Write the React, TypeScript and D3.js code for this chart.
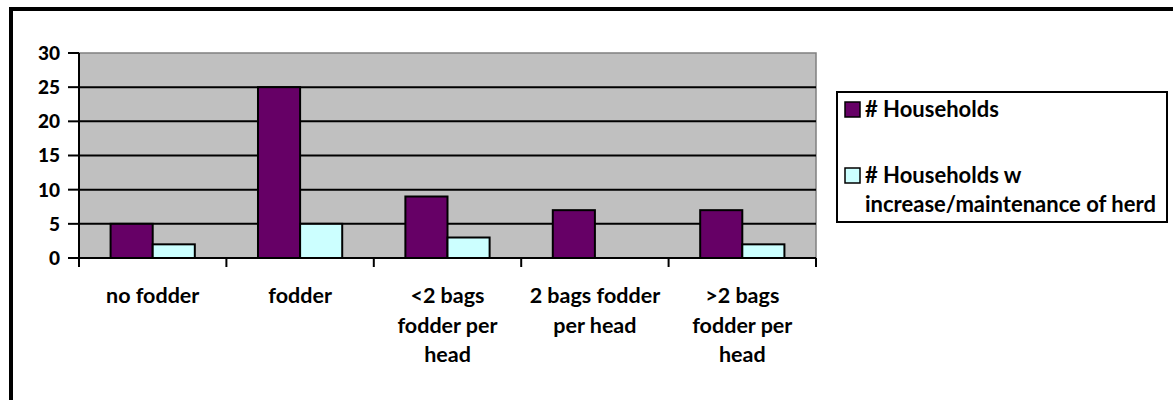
import React from "react";
import * as d3 from "d3";

const categories = ["no fodder", "fodder", "<2 bags fodder per head", "2 bags fodder per head", ">2 bags fodder per head"];
const categoryLines = [["no fodder"], ["fodder"], ["<2 bags", "fodder per", "head"], ["2 bags fodder", "per head"], [">2 bags", "fodder per", "head"]];
const seriesNames = ["# Households", "# Households w increase/maintenance of herd"];
const legendLines = [["# Households"], ["# Households w", "increase/maintenance of herd"]];
const households = [5, 25, 9, 7, 7];
const householdsIncrease = [2, 5, 3, 0, 2];
const yTicks = [0, 5, 10, 15, 20, 25, 30];
const colors = ["#660066", "#CCFFFF"];

const W = 1173;
const H = 400;
const plot = { left: 79, right: 816, top: 53, bottom: 258 };
const FONT = "Lato, 'Open Sans', sans-serif";

export default function App() {
  const series = [households, householdsIncrease];
  const x = d3.scaleBand<string>().domain(categories).range([plot.left, plot.right]).padding(0);
  const bw = x.bandwidth();
  const barW = bw / 3.5;
  const xs = d3
    .scaleBand<string>()
    .domain(seriesNames)
    .range([bw * 0.75 / 3.5, bw * 0.75 / 3.5 + 2 * barW])
    .padding(0);
  const y = d3.scaleLinear().domain([0, 30]).range([plot.bottom, plot.top]);
  const tickXs = categories.map((c) => x(c) as number).concat([plot.right]);

  return (
    <svg width={W} height={H} style={{ position: "absolute", left: 0, top: 0, background: "#fff" }}>
      <rect x={11} y={9} width={1300} height={600} fill="#fff" stroke="#000" strokeWidth={4} />
      {/* plot area */}
      <rect x={plot.left} y={plot.top} width={plot.right - plot.left} height={plot.bottom - plot.top} fill="#C0C0C0" stroke="#808080" strokeWidth={1.5} />
      {yTicks.filter((t) => t > 0 && t < 30).map((t) => (
        <line key={"g" + t} x1={plot.left} x2={plot.right} y1={y(t)} y2={y(t)} stroke="#000" strokeWidth={2} />
      ))}
      {/* bars */}
      {categories.map((c, i) => (
        <g key={c}>
          {series.map((s, j) =>
            s[i] > 0 ? (
              <rect
                key={j}
                x={(x(c) as number) + (xs(seriesNames[j]) as number)}
                y={y(s[i])}
                width={barW}
                height={y(0) - y(s[i])}
                fill={colors[j]}
                stroke="#000"
                strokeWidth={2}
              />
            ) : null
          )}
        </g>
      ))}
      {/* y axis */}
      <line x1={plot.left} x2={plot.left} y1={plot.top} y2={plot.bottom} stroke="#000" strokeWidth={2} />
      {yTicks.map((t) => (
        <g key={"t" + t}>
          <line x1={plot.left - 11} x2={plot.left} y1={y(t)} y2={y(t)} stroke="#000" strokeWidth={2} />
          <text x={60} y={y(t)} dy="0.36em" textAnchor="end" fontFamily={FONT} fontWeight="900" fontSize={19} fill="#000">
            {t}
          </text>
        </g>
      ))}
      {/* x axis */}
      <line x1={plot.left} x2={plot.right} y1={plot.bottom} y2={plot.bottom} stroke="#000" strokeWidth={2} />
      {tickXs.map((tx, i) => (
        <line key={"xt" + i} x1={tx} x2={tx} y1={plot.bottom} y2={plot.bottom + 9} stroke="#000" strokeWidth={2} />
      ))}
      {categories.map((c, i) => (
        <text key={"xl" + c} textAnchor="middle" fontFamily={FONT} fontWeight="bold" fontSize={21.5} fill="#000">
          {categoryLines[i].map((ln, k) => (
            <tspan key={k} x={(x(c) as number) + bw / 2} y={303 + k * 29.5}>
              {ln}
            </tspan>
          ))}
        </text>
      ))}
      {/* legend */}
      <rect x={837} y={92} width={330} height={130} fill="#fff" stroke="#000" strokeWidth={2} />
      {seriesNames.map((n, j) => {
        const baseY = j === 0 ? 117 : 183;
        return (
          <g key={"lg" + j}>
            <rect x={845} y={baseY - 15} width={15} height={15} fill={colors[j]} stroke="#000" strokeWidth={1.5} />
            <text fontFamily={FONT} fontWeight="bold" fontSize={22} fill="#000">
              {legendLines[j].map((ln, k) => (
                <tspan key={k} x={865} y={baseY + k * 29}>
                  {ln}
                </tspan>
              ))}
            </text>
          </g>
        );
      })}
    </svg>
  );
}
